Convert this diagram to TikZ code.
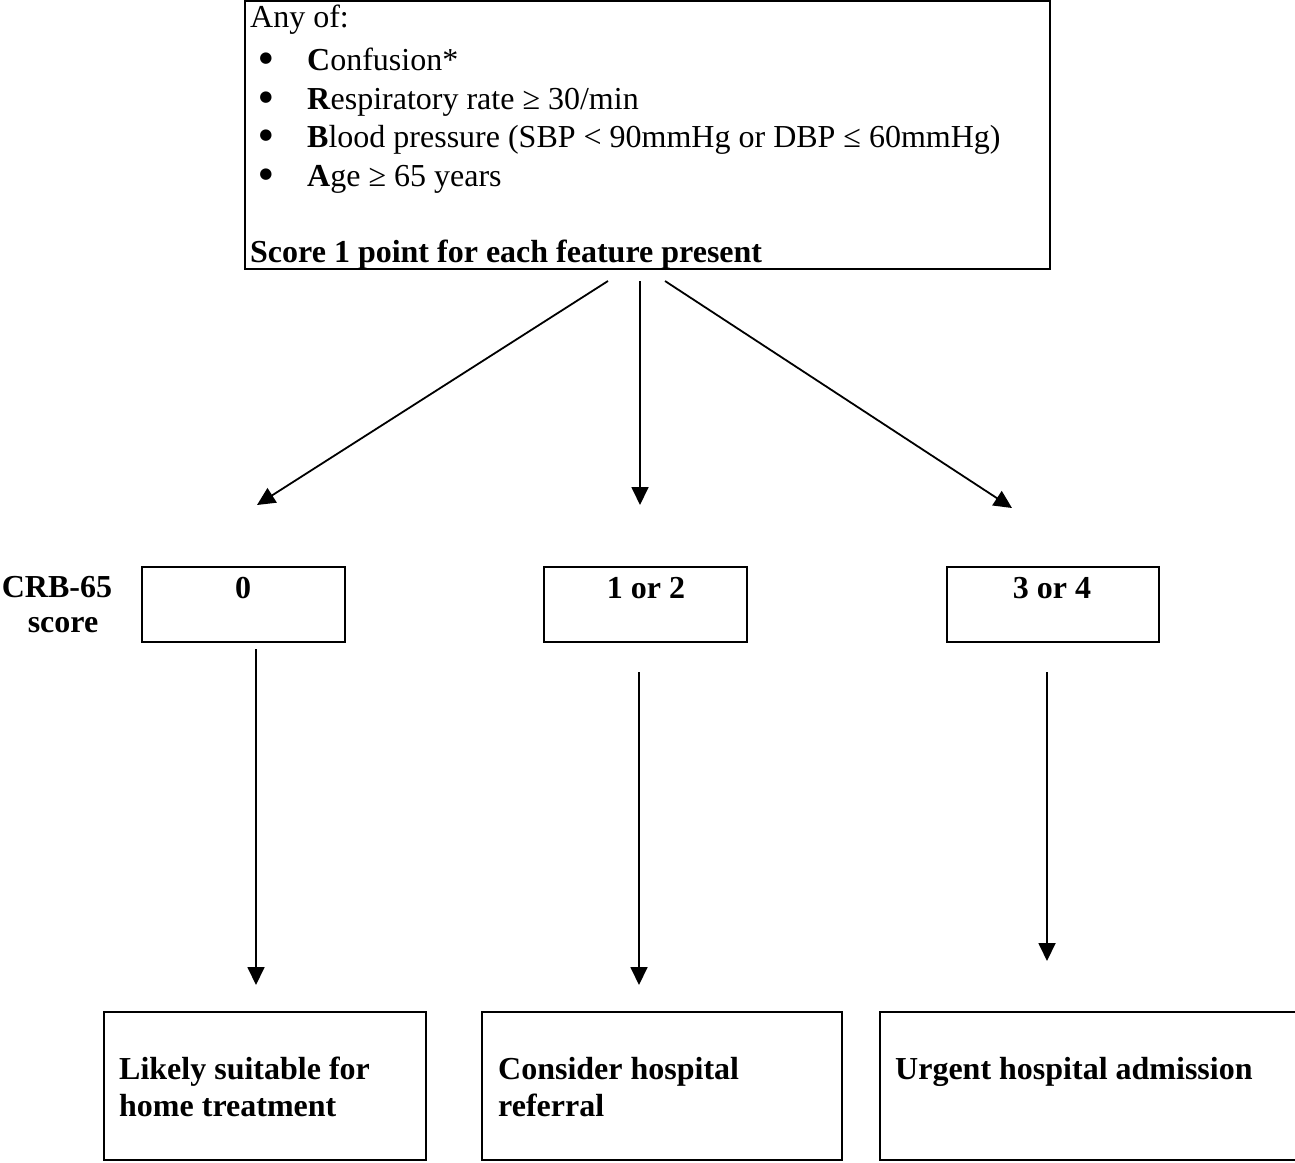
\documentclass[tikz,border=0pt]{standalone}
\usepackage{fontspec}
\setmainfont{Liberation Serif}
\newfontfamily\symfam{DejaVu Sans}
\usetikzlibrary{arrows.meta}
\begin{document}
\begin{tikzpicture}[x=1pt,y=-1pt,
  box/.style={draw,line width=2.6pt,inner sep=0pt,outer sep=0pt,anchor=north west},
  arr/.style={line width=1.8pt,-{Triangle[length=18pt,width=17pt]}},
  txt/.style={anchor=base west,inner sep=0pt,font=\fontsize{32}{37}\selectfont},
  btxt/.style={anchor=base west,inner sep=0pt,font=\fontsize{32}{37}\selectfont\bfseries},
  bul/.style={anchor=center,inner sep=0pt,font=\symfam\fontsize{15}{16}\selectfont}]
\clip (0,0) rectangle (1295,1162);
% top box
\node[box,minimum width=805pt,minimum height=268pt] (top) at (245,1) {};
\node[txt] (any) at (250,27) {Any of:};
\node[bul] (bu1) at (266,59) {●};
\node[txt] (l1) at (307,70) {\textbf{C}onfusion*};
\node[bul] (bu2) at (266,98) {●};
\node[txt] (l2) at (307,109) {\textbf{R}espiratory rate ≥ 30/min};
\node[bul] (bu3) at (266,136) {●};
\node[txt] (l3) at (307,147) {\textbf{B}lood pressure (SBP < 90mmHg or DBP ≤ 60mmHg)};
\node[bul] (bu4) at (266,175) {●};
\node[txt] (l4) at (307,186) {\textbf{A}ge ≥ 65 years};
\node[btxt] (sc1) at (250,262) {Score 1 point for each feature present};
% score label
\node[btxt,anchor=base] (crb) at (57,597) {CRB-65};
\node[btxt,anchor=base] (scr) at (63,632) {score};
% score boxes
\node[box,minimum width=203pt,minimum height=75pt] (s0) at (142,567) {};
\node[btxt,anchor=base] (t0) at (243,598) {0};
\node[box,minimum width=203pt,minimum height=75pt] (s1) at (544,567) {};
\node[btxt,anchor=base] (t1) at (646,598) {1 or 2};
\node[box,minimum width=212pt,minimum height=75pt] (s3) at (947,567) {};
\node[btxt,anchor=base] (t3) at (1052,598) {3 or 4};
% outcome boxes
\node[box,minimum width=322pt,minimum height=148pt] (o1) at (104,1012) {};
\node[btxt] (o1a) at (119,1079) {Likely suitable for};
\node[btxt] (o1b) at (119,1116) {home treatment};
\node[box,minimum width=360pt,minimum height=148pt] (o2) at (482,1012) {};
\node[btxt] (o2a) at (498,1079) {Consider hospital};
\node[btxt] (o2b) at (498,1116) {referral};
\node[box,minimum width=425pt,minimum height=148pt] (o3) at (880,1012) {};
\node[btxt] (o3a) at (895,1079) {Urgent hospital admission};
% arrow end points
\coordinate (a1s) at (608,281);
\coordinate (a1e) at (257,505);
\coordinate (a2s) at (640,281);
\coordinate (a2e) at (640,505);
\coordinate (a3s) at (665,281);
\coordinate (a3e) at (1012,508);
\coordinate (b1s) at (256,649);
\coordinate (b1e) at (256,985);
\coordinate (b2s) at (639,672);
\coordinate (b2e) at (639,985);
\coordinate (b3s) at (1047,672);
\coordinate (b3e) at (1047,961);
\draw[arr] (a1s) -- (a1e);
\draw[arr] (a2s) -- (a2e);
\draw[arr] (a3s) -- (a3e);
\draw[arr] (b1s) -- (b1e);
\draw[arr] (b2s) -- (b2e);
\draw[arr] (b3s) -- (b3e);
\end{tikzpicture}
\end{document}
